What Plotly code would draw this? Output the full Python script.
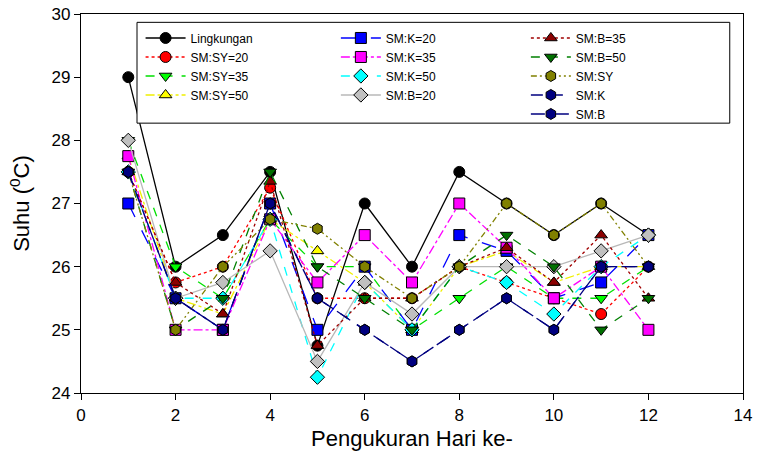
import plotly.graph_objects as go

days = [1, 2, 3, 4, 5, 6, 7, 8, 9, 10, 11, 12]

lingkungan = [29, 26, 26.5, 27.5, 24.75, 27, 26, 27.5, 27, 26.5, 27, 26.5]
sm_sy20 = [27.5, 25.75, 26, 27.25, 25.5, 25.5, 25.5, 26, 25.75, 25.5, 25.25, 26]
sm_sy35 = [28, 26, 25.5, 26.75, 26, 26, 25, 25.5, 26, 25.5, 25.5, 26]
sm_sy50 = [27.75, 25.5, 25.25, 26.75, 26.25, 25.75, 25, 26, 26.25, 25.75, 26, 26]
sm_k20 = [27, 25.5, 25, 27, 25, 26, 25, 26.5, 26.25, 25.5, 25.75, 26.5]
sm_k35 = [27.75, 25, 25, 26.75, 25.75, 26.5, 25.75, 27, 26.3, 25.5, 26, 25]
sm_k50 = [27.5, 25.5, 25.5, 26.75, 24.25, 25.75, 25, 26, 25.75, 25.25, 26, 26.5]
sm_b20 = [28, 25.5, 25.75, 26.25, 24.5, 25.75, 25.25, 26, 26, 26, 26.25, 26.5]
sm_b35 = [27.5, 25.75, 25.25, 27.35, 24.75, 25.5, 25.5, 26, 26.3, 25.75, 26.5, 25.5]
sm_b50 = [27.5, 25, 25.5, 27.5, 26, 25.5, 25, 26, 26.5, 26, 25, 25.5]
sm_sy = [27.5, 25, 26, 26.75, 26.6, 26, 25.5, 26, 27, 26.5, 27, 26]
sm_k = [27.5, 25.5, 25, 27, 25.5, 25, 24.5, 25, 25.5, 25, 26, 26]
sm_b = [27.5, 25.5, 25, 27, 25.5, 25, 24.5, 25, 25.5, 25, 26, 26]

x_ticks = [0, 2, 4, 6, 8, 10, 12, 14]
y_ticks = [24, 25, 26, 27, 28, 29, 30]

# name, data, line color, marker color, dash, symbol, legend column
series = [
    ("Lingkungan", lingkungan, "black", "black", "solid", "circle", "legend"),
    ("SM:SY=20", sm_sy20, "red", "red", "dot", "circle", "legend"),
    ("SM:SY=35", sm_sy35, "#00e000", "#00ff00", "dash", "triangle-down", "legend"),
    ("SM:SY=50", sm_sy50, "#f0f000", "yellow", "dashdot", "triangle-up", "legend"),
    ("SM:K=20", sm_k20, "blue", "blue", "longdash", "square", "legend2"),
    ("SM:K=35", sm_k35, "magenta", "magenta", "dashdot", "square", "legend2"),
    ("SM:K=50", sm_k50, "cyan", "cyan", "dash", "diamond", "legend2"),
    ("SM:B=20", sm_b20, "#b8b8b8", "#c0c0c0", "solid", "diamond", "legend2"),
    ("SM:B=35", sm_b35, "#a00000", "#8b0000", "dot", "triangle-up", "legend3"),
    ("SM:B=50", sm_b50, "#008000", "#007000", "dash", "triangle-down", "legend3"),
    ("SM:SY", sm_sy, "#808000", "#808000", "6px,3px,2px,3px,2px,3px", "hexagon", "legend3"),
    ("SM:K", sm_k, "#000080", "#000080", "12px,8px", "hexagon", "legend3"),
    ("SM:B", sm_b, "#000080", "#000080", "14px,10px", "hexagon", "legend3"),
]

fig = go.Figure()
for name, vals, lc, mc, dash, sym, leg in series:
    fig.add_trace(go.Scatter(
        x=days, y=vals, name=name, mode="lines+markers",
        line=dict(color=lc, width=1.3, dash=dash),
        marker=dict(symbol=sym, size=11, color=mc, line=dict(color="black", width=1)),
        legend=leg,
    ))

leg_common = dict(
    orientation="v", yanchor="top", xanchor="left",
    bgcolor="rgba(0,0,0,0)", borderwidth=0,
    font=dict(size=12, family="Liberation Sans, Arial, sans-serif"),
    tracegroupgap=0, itemwidth=40,
)

fig.update_layout(
    width=757, height=451,
    margin=dict(l=81, r=14, t=14, b=58),
    paper_bgcolor="white", plot_bgcolor="white",
    font=dict(family="Liberation Sans, Arial, sans-serif", color="black", size=14),
    legend=dict(x=0.09, y=0.975, **leg_common),
    legend2=dict(x=0.385, y=0.975, **leg_common),
    legend3=dict(x=0.672, y=0.975, **leg_common),
    shapes=[dict(
        type="rect", xref="paper", yref="paper",
        x0=0.0846, x1=0.98, y0=0.712, y1=0.978,
        line=dict(color="black", width=1), fillcolor="white", layer="above",
    )],
    showlegend=True,
)
fig.update_xaxes(
    range=[0, 14], tickvals=x_ticks, ticks="outside", ticklen=6, tickcolor="black",
    showline=True, linecolor="black", linewidth=1.2, mirror=True, showgrid=False, zeroline=False,
    title=dict(text="Pengukuran Hari ke-", font=dict(size=22)),
    tickfont=dict(size=17), automargin=False,
)
fig.update_yaxes(
    range=[24, 30], tickvals=y_ticks, ticks="outside", ticklen=6, tickcolor="black",
    showline=True, linecolor="black", linewidth=1.2, mirror=True, showgrid=False, zeroline=False,
    title=dict(text="Suhu (<sup>0</sup>C)", font=dict(size=22)),
    tickfont=dict(size=17), automargin=False,
)

fig.write_html("out.html")
